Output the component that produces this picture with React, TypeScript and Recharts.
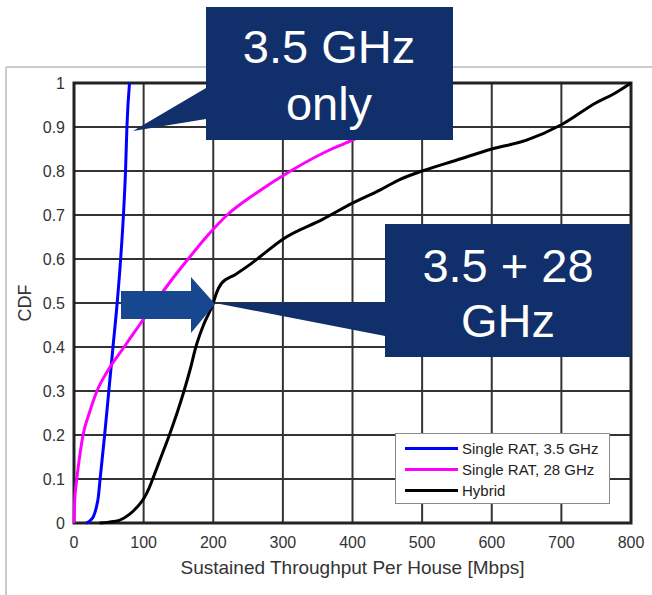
import React from "react";
import {
  LineChart,
  Line,
  XAxis,
  YAxis,
  CartesianGrid,
  ReferenceArea,
  Legend,
} from "recharts";

const xTicks = [0, 100, 200, 300, 400, 500, 600, 700, 800];
const yTicks = [0, 0.1, 0.2, 0.3, 0.4, 0.5, 0.6, 0.7, 0.8, 0.9, 1];

const seriesNames = ["Single RAT, 3.5 GHz", "Single RAT, 28 GHz", "Hybrid"];

// Single RAT, 3.5 GHz
const rat35X = [17.5, 23, 28, 32, 35, 37.5, 44, 50, 56, 62, 67, 71, 74, 76, 79.7];
const rat35Y = [0, 0.005, 0.015, 0.035, 0.06, 0.1, 0.2, 0.3, 0.4, 0.5, 0.6, 0.7, 0.8, 0.9, 1];

// Single RAT, 28 GHz
const rat28X = [0, 1, 4, 8, 13, 22, 33, 50, 72, 94, 116, 139, 164, 190, 220, 262, 311, 370, 400, 460, 500, 530];
const rat28Y = [0, 0.05, 0.1, 0.15, 0.2, 0.25, 0.3, 0.35, 0.4, 0.45, 0.5, 0.55, 0.6, 0.65, 0.7, 0.75, 0.8, 0.85, 0.87, 0.92, 0.96, 1];

// Hybrid
const hybridX = [37, 50, 65, 80, 90, 100, 108, 113, 125, 137, 148, 158, 167, 175, 186, 200, 204, 212, 232, 255, 271, 300, 357, 400, 440, 467, 500, 550, 600, 650, 700, 750, 775, 800];
const hybridY = [0, 0.002, 0.006, 0.02, 0.035, 0.055, 0.08, 0.1, 0.15, 0.2, 0.25, 0.3, 0.35, 0.4, 0.45, 0.5, 0.52, 0.545, 0.565, 0.59, 0.61, 0.645, 0.69, 0.727, 0.757, 0.78, 0.8, 0.825, 0.85, 0.87, 0.905, 0.955, 0.975, 1];

const toPoints = (xs: number[], ys: number[]) => xs.map((x, i) => ({ x, y: ys[i] }));

const FONT = "'Liberation Sans', Arial, sans-serif";
const NAVY = "#11306b";

function LegendBox({ payload }: any) {
  const items = [...(payload || [])].sort(
    (a: any, b: any) => seriesNames.indexOf(a.value) - seriesNames.indexOf(b.value)
  );
  return (
    <div
      style={{
        boxSizing: "border-box",
        width: 215,
        height: 71,
        border: "1px solid #8a8a8a",
        background: "#fff",
        padding: "4px 0 0 9px",
        fontFamily: FONT,
        fontSize: 15,
        color: "#222",
      }}
    >
      {items.map((p: any) => (
        <div key={p.value} style={{ height: 21, display: "flex", alignItems: "center" }}>
          <span style={{ width: 53, height: 3, background: p.color, marginRight: 4 }} />
          <span>{p.value}</span>
        </div>
      ))}
    </div>
  );
}

export default function App() {
  return (
    <div style={{ position: "absolute", left: 0, top: 0, width: 652, height: 595, background: "#fff" }}>
      <svg style={{ position: "absolute", left: 0, top: 0 }} width={652} height={595}>
        <line x1={6} y1={67} x2={652} y2={67} stroke="#c6ccd2" strokeWidth={2} />
        <line x1={6} y1={67} x2={6} y2={595} stroke="#c6ccd2" strokeWidth={2} />
      </svg>
      <div style={{ position: "absolute", left: 0, top: 0 }}>
        <LineChart
          width={652}
          height={595}
          margin={{ top: 83, right: 21, bottom: 0, left: 0 }}
          style={{ fontFamily: FONT }}
        >
          <CartesianGrid stroke="#333" strokeWidth={2} />
          <XAxis
            type="number"
            dataKey="x"
            domain={[0, 800]}
            ticks={xTicks}
            height={72}
            tickSize={0}
            tickMargin={14}
            axisLine={false}
            tick={{ fontSize: 16, fill: "#333" }}
            label={{ value: "Sustained Throughput Per House [Mbps]", position: "center", dy: 8, fontSize: 19, fill: "#333" }}
          />
          <YAxis
            type="number"
            dataKey="y"
            domain={[0, 1]}
            ticks={yTicks}
            width={74}
            tickSize={0}
            tickMargin={9}
            axisLine={false}
            tick={{ fontSize: 16, fill: "#333" }}
            label={{ value: "CDF", angle: -90, position: "center", dx: -12, fontSize: 18, fill: "#333" }}
          />
          <ReferenceArea x1={0} x2={800} y1={0} y2={1} fill="none" stroke="#222" strokeWidth={3} />
          <Line
            data={toPoints(rat35X, rat35Y)}
            dataKey="y"
            name={seriesNames[0]}
            type="monotone"
            stroke="#0000ff"
            strokeWidth={3}
            dot={false}
            isAnimationActive={false}
          />
          <Line
            data={toPoints(rat28X, rat28Y)}
            dataKey="y"
            name={seriesNames[1]}
            type="monotone"
            stroke="#ff00ff"
            strokeWidth={3}
            dot={false}
            isAnimationActive={false}
          />
          <Line
            data={toPoints(hybridX, hybridY)}
            dataKey="y"
            name={seriesNames[2]}
            type="monotone"
            stroke="#000"
            strokeWidth={3}
            dot={false}
            isAnimationActive={false}
          />
          <Legend
            layout="vertical"
            align="center"
            verticalAlign="middle"
            content={LegendBox}
            wrapperStyle={{ left: 395, top: 433, width: 215, height: 71 }}
          />
        </LineChart>
      </div>
      <svg style={{ position: "absolute", left: 0, top: 0, pointerEvents: "none" }} width={652} height={595}>
        {/* 3.5 GHz only callout */}
        <polygon points="133,131 206,88 206,119" fill={NAVY} />
        <rect x={206} y={7} width={247} height={133} fill={NAVY} />
        <text x={329} y={63} textAnchor="middle" fill="#fff" fontSize={47} fontFamily={FONT}>
          3.5 GHz
        </text>
        <text x={329} y={120} textAnchor="middle" fill="#fff" fontSize={47} fontFamily={FONT}>
          only
        </text>
        {/* 3.5 + 28 GHz callout */}
        <polygon points="215,303 385,302 385,336" fill={NAVY} />
        <rect x={385} y={224} width={246} height={133} fill={NAVY} />
        <text x={508} y={282} textAnchor="middle" fill="#fff" fontSize={47} fontFamily={FONT}>
          3.5 + 28
        </text>
        <text x={508} y={337} textAnchor="middle" fill="#fff" fontSize={47} fontFamily={FONT}>
          GHz
        </text>
        {/* arrow */}
        <polygon points="121,291 191,291 191,277 215,304 191,333 191,319 121,319" fill="#17478f" />
      </svg>
    </div>
  );
}
